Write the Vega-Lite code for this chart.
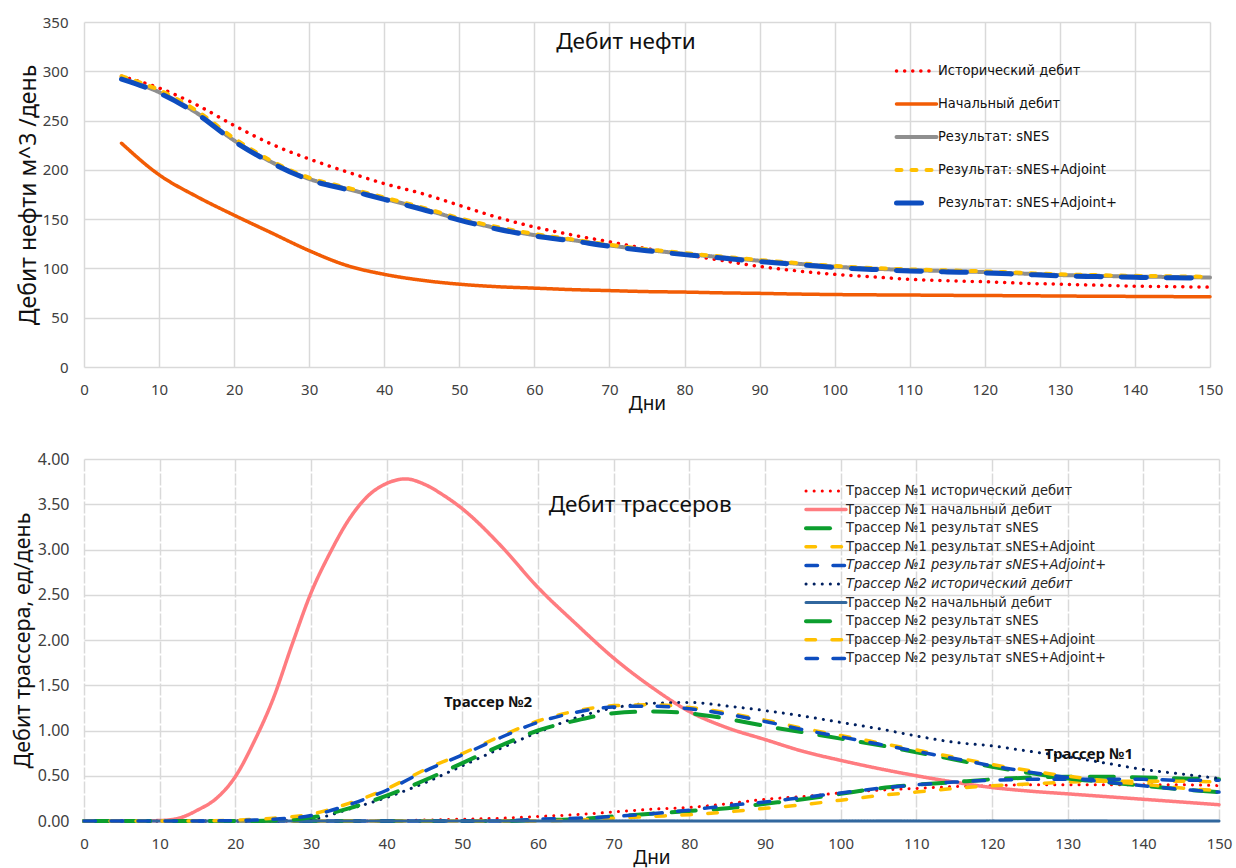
{
  "$schema": "https://vega.github.io/schema/vega-lite/v6.json",
  "background": "white",
  "padding": {"left": 12, "top": 15, "right": 5, "bottom": 5},
  "spacing": 38,
  "resolve": {
    "scale": {"x": "independent", "y": "independent", "color": "independent", "strokeDash": "independent", "strokeWidth": "independent"},
    "axis": {"x": "independent", "y": "independent"},
    "legend": {"color": "independent", "strokeDash": "independent", "strokeWidth": "independent"}
  },
  "config": {
    "font": "Noto Sans",
    "view": {"stroke": null},
    "axis": {
      "grid": true, "gridColor": "#D9D9D9", "gridWidth": 1.5,
      "ticks": false, "domain": false,
      "labelColor": "#404040", "labelFontSize": 15, "labelFlush": false, "labelOverlap": false,
      "titleColor": "#111111", "titleFontWeight": "normal"
    },
    "legend": {"labelLimit": 400, "padding": 0, "symbolType": "stroke", "symbolSize": 1600, "title": null, "labelFont": "DejaVu Sans Condensed, DejaVu Sans"}
  },
  "datasets": {
    "oilnames": [
      {"k": "h", "name": "Исторический дебит"},
      {"k": "i", "name": "Начальный дебит"},
      {"k": "s", "name": "Результат: sNES"},
      {"k": "a", "name": "Результат: sNES+Adjoint"},
      {"k": "p", "name": "Результат: sNES+Adjoint+"}
    ],
    "trnames": [
      {"k": "t1h", "name": "Трассер №1 исторический дебит"},
      {"k": "t1i", "name": "Трассер №1 начальный дебит"},
      {"k": "t1s", "name": "Трассер №1 результат sNES"},
      {"k": "t1a", "name": "Трассер №1 результат sNES+Adjoint"},
      {"k": "t1p", "name": "Трассер №1 результат sNES+Adjoint+"},
      {"k": "t2h", "name": "Трассер №2 исторический дебит"},
      {"k": "t2i", "name": "Трассер №2 начальный дебит"},
      {"k": "t2s", "name": "Трассер №2 результат sNES"},
      {"k": "t2a", "name": "Трассер №2 результат sNES+Adjoint"},
      {"k": "t2p", "name": "Трассер №2 результат sNES+Adjoint+"}
    ],
    "oil": [
      {"k":"h","d":5,"v":295},{"k":"h","d":10,"v":283},{"k":"h","d":15,"v":266},{"k":"h","d":20,"v":245},{"k":"h","d":25,"v":226},{"k":"h","d":30,"v":211},{"k":"h","d":35,"v":198},{"k":"h","d":40,"v":186},{"k":"h","d":45,"v":176},{"k":"h","d":50,"v":164},{"k":"h","d":55,"v":152},{"k":"h","d":60,"v":142},{"k":"h","d":65,"v":134},{"k":"h","d":70,"v":127},{"k":"h","d":75,"v":120},{"k":"h","d":80,"v":114},{"k":"h","d":85,"v":108},{"k":"h","d":90,"v":102},{"k":"h","d":95,"v":97.5},{"k":"h","d":100,"v":94},{"k":"h","d":105,"v":91.5},{"k":"h","d":110,"v":89},{"k":"h","d":115,"v":87.5},{"k":"h","d":120,"v":86.5},{"k":"h","d":125,"v":85},{"k":"h","d":130,"v":84},{"k":"h","d":135,"v":83},{"k":"h","d":140,"v":82},{"k":"h","d":145,"v":81.5},{"k":"h","d":150,"v":81},
      {"k":"i","d":5,"v":227},{"k":"i","d":10,"v":195},{"k":"i","d":15,"v":173},{"k":"i","d":20,"v":154},{"k":"i","d":25,"v":136},{"k":"i","d":30,"v":118},{"k":"i","d":35,"v":103},{"k":"i","d":40,"v":94},{"k":"i","d":45,"v":88},{"k":"i","d":50,"v":84},{"k":"i","d":55,"v":81.5},{"k":"i","d":60,"v":80},{"k":"i","d":65,"v":78.5},{"k":"i","d":70,"v":77.5},{"k":"i","d":75,"v":76.5},{"k":"i","d":80,"v":76},{"k":"i","d":85,"v":75.2},{"k":"i","d":90,"v":74.7},{"k":"i","d":95,"v":74},{"k":"i","d":100,"v":73.5},{"k":"i","d":105,"v":73.2},{"k":"i","d":110,"v":73},{"k":"i","d":115,"v":72.7},{"k":"i","d":120,"v":72.5},{"k":"i","d":125,"v":72.3},{"k":"i","d":130,"v":72},{"k":"i","d":135,"v":71.8},{"k":"i","d":140,"v":71.6},{"k":"i","d":145,"v":71.4},{"k":"i","d":150,"v":71.3},
      {"k":"s","d":5,"v":292.8},{"k":"s","d":10,"v":278.8},{"k":"s","d":15,"v":257.8},{"k":"s","d":20,"v":229.8},{"k":"s","d":25,"v":207.8},{"k":"s","d":30,"v":190.8},{"k":"s","d":35,"v":180.8},{"k":"s","d":40,"v":170.8},{"k":"s","d":45,"v":160.8},{"k":"s","d":50,"v":149.8},{"k":"s","d":55,"v":140.8},{"k":"s","d":60,"v":133.8},{"k":"s","d":65,"v":128.8},{"k":"s","d":70,"v":123.3},{"k":"s","d":75,"v":118.8},{"k":"s","d":80,"v":114.8},{"k":"s","d":85,"v":111.3},{"k":"s","d":90,"v":107.8},{"k":"s","d":95,"v":104.8},{"k":"s","d":100,"v":101.8},{"k":"s","d":105,"v":99.8},{"k":"s","d":110,"v":98.3},{"k":"s","d":115,"v":97.3},{"k":"s","d":120,"v":96.3},{"k":"s","d":125,"v":94.8},{"k":"s","d":130,"v":93.3},{"k":"s","d":135,"v":92.5},{"k":"s","d":140,"v":91.8},{"k":"s","d":145,"v":91.3},{"k":"s","d":150,"v":90.8},
      {"k":"a","d":5,"v":295},{"k":"a","d":10,"v":281},{"k":"a","d":15,"v":260},{"k":"a","d":20,"v":232},{"k":"a","d":25,"v":209},{"k":"a","d":30,"v":192},{"k":"a","d":35,"v":182},{"k":"a","d":40,"v":172},{"k":"a","d":45,"v":162},{"k":"a","d":50,"v":151},{"k":"a","d":55,"v":142},{"k":"a","d":60,"v":135},{"k":"a","d":65,"v":129.5},{"k":"a","d":70,"v":124},{"k":"a","d":75,"v":119.5},{"k":"a","d":80,"v":115.5},{"k":"a","d":85,"v":112},{"k":"a","d":90,"v":108.5},{"k":"a","d":95,"v":105.5},{"k":"a","d":100,"v":102.5},{"k":"a","d":105,"v":100.5},{"k":"a","d":110,"v":99},{"k":"a","d":115,"v":98},{"k":"a","d":120,"v":97},{"k":"a","d":125,"v":95.5},{"k":"a","d":130,"v":94},{"k":"a","d":135,"v":93.2},{"k":"a","d":140,"v":92.5},{"k":"a","d":145,"v":92},{"k":"a","d":150,"v":91.5},
      {"k":"p","d":5,"v":292},{"k":"p","d":10,"v":278},{"k":"p","d":15,"v":257},{"k":"p","d":20,"v":229},{"k":"p","d":25,"v":207},{"k":"p","d":30,"v":190},{"k":"p","d":35,"v":180},{"k":"p","d":40,"v":170},{"k":"p","d":45,"v":160},{"k":"p","d":50,"v":149},{"k":"p","d":55,"v":140},{"k":"p","d":60,"v":133},{"k":"p","d":65,"v":128},{"k":"p","d":70,"v":122.5},{"k":"p","d":75,"v":118},{"k":"p","d":80,"v":114},{"k":"p","d":85,"v":110.5},{"k":"p","d":90,"v":107},{"k":"p","d":95,"v":104},{"k":"p","d":100,"v":101},{"k":"p","d":105,"v":99},{"k":"p","d":110,"v":97.5},{"k":"p","d":115,"v":96.5},{"k":"p","d":120,"v":95.5},{"k":"p","d":125,"v":94},{"k":"p","d":130,"v":92.5},{"k":"p","d":135,"v":91.7},{"k":"p","d":140,"v":91},{"k":"p","d":145,"v":90.5},{"k":"p","d":150,"v":90}
    ],
    "tr": [
      {"k":"t1h","d":0,"v":0},{"k":"t1h","d":5,"v":0},{"k":"t1h","d":10,"v":0},{"k":"t1h","d":15,"v":0},{"k":"t1h","d":20,"v":0},{"k":"t1h","d":25,"v":0},{"k":"t1h","d":30,"v":0},{"k":"t1h","d":35,"v":0},{"k":"t1h","d":40,"v":0},{"k":"t1h","d":45,"v":0.01},{"k":"t1h","d":50,"v":0.02},{"k":"t1h","d":55,"v":0.03},{"k":"t1h","d":60,"v":0.05},{"k":"t1h","d":65,"v":0.07},{"k":"t1h","d":70,"v":0.10},{"k":"t1h","d":75,"v":0.13},{"k":"t1h","d":80,"v":0.15},{"k":"t1h","d":85,"v":0.19},{"k":"t1h","d":90,"v":0.24},{"k":"t1h","d":95,"v":0.27},{"k":"t1h","d":100,"v":0.31},{"k":"t1h","d":105,"v":0.34},{"k":"t1h","d":110,"v":0.36},{"k":"t1h","d":115,"v":0.38},{"k":"t1h","d":120,"v":0.39},{"k":"t1h","d":125,"v":0.40},{"k":"t1h","d":130,"v":0.40},{"k":"t1h","d":135,"v":0.40},{"k":"t1h","d":140,"v":0.40},{"k":"t1h","d":145,"v":0.40},{"k":"t1h","d":150,"v":0.39},
      {"k":"t1i","d":0,"v":0},{"k":"t1i","d":5,"v":0},{"k":"t1i","d":10,"v":0.005},{"k":"t1i","d":12.5,"v":0.03},{"k":"t1i","d":15,"v":0.12},{"k":"t1i","d":17.5,"v":0.25},{"k":"t1i","d":20,"v":0.49},{"k":"t1i","d":22.5,"v":0.88},{"k":"t1i","d":25,"v":1.35},{"k":"t1i","d":27.5,"v":1.95},{"k":"t1i","d":30,"v":2.52},{"k":"t1i","d":32.5,"v":2.96},{"k":"t1i","d":35,"v":3.33},{"k":"t1i","d":37.5,"v":3.59},{"k":"t1i","d":40,"v":3.73},{"k":"t1i","d":42.5,"v":3.78},{"k":"t1i","d":45,"v":3.72},{"k":"t1i","d":47.5,"v":3.6},{"k":"t1i","d":50,"v":3.45},{"k":"t1i","d":55,"v":3.05},{"k":"t1i","d":60,"v":2.58},{"k":"t1i","d":65,"v":2.18},{"k":"t1i","d":70,"v":1.8},{"k":"t1i","d":75,"v":1.48},{"k":"t1i","d":80,"v":1.21},{"k":"t1i","d":85,"v":1.03},{"k":"t1i","d":90,"v":0.9},{"k":"t1i","d":95,"v":0.77},{"k":"t1i","d":100,"v":0.67},{"k":"t1i","d":105,"v":0.58},{"k":"t1i","d":110,"v":0.5},{"k":"t1i","d":115,"v":0.43},{"k":"t1i","d":120,"v":0.37},{"k":"t1i","d":125,"v":0.33},{"k":"t1i","d":130,"v":0.3},{"k":"t1i","d":135,"v":0.27},{"k":"t1i","d":140,"v":0.24},{"k":"t1i","d":145,"v":0.21},{"k":"t1i","d":150,"v":0.18},
      {"k":"t1s","d":0,"v":0},{"k":"t1s","d":5,"v":0},{"k":"t1s","d":10,"v":0},{"k":"t1s","d":15,"v":0},{"k":"t1s","d":20,"v":0},{"k":"t1s","d":25,"v":0},{"k":"t1s","d":30,"v":0},{"k":"t1s","d":35,"v":0},{"k":"t1s","d":40,"v":0},{"k":"t1s","d":45,"v":0},{"k":"t1s","d":50,"v":0},{"k":"t1s","d":55,"v":0},{"k":"t1s","d":60,"v":0.01},{"k":"t1s","d":65,"v":0.02},{"k":"t1s","d":70,"v":0.05},{"k":"t1s","d":75,"v":0.08},{"k":"t1s","d":80,"v":0.11},{"k":"t1s","d":85,"v":0.14},{"k":"t1s","d":90,"v":0.19},{"k":"t1s","d":95,"v":0.24},{"k":"t1s","d":100,"v":0.30},{"k":"t1s","d":105,"v":0.36},{"k":"t1s","d":110,"v":0.40},{"k":"t1s","d":115,"v":0.43},{"k":"t1s","d":120,"v":0.46},{"k":"t1s","d":125,"v":0.48},{"k":"t1s","d":130,"v":0.49},{"k":"t1s","d":135,"v":0.49},{"k":"t1s","d":140,"v":0.48},{"k":"t1s","d":145,"v":0.47},{"k":"t1s","d":150,"v":0.46},
      {"k":"t1a","d":0,"v":0},{"k":"t1a","d":5,"v":0},{"k":"t1a","d":10,"v":0},{"k":"t1a","d":15,"v":0},{"k":"t1a","d":20,"v":0},{"k":"t1a","d":25,"v":0},{"k":"t1a","d":30,"v":0},{"k":"t1a","d":35,"v":0},{"k":"t1a","d":40,"v":0},{"k":"t1a","d":45,"v":0},{"k":"t1a","d":50,"v":0},{"k":"t1a","d":55,"v":0},{"k":"t1a","d":60,"v":0},{"k":"t1a","d":65,"v":0.01},{"k":"t1a","d":70,"v":0.03},{"k":"t1a","d":75,"v":0.05},{"k":"t1a","d":80,"v":0.07},{"k":"t1a","d":85,"v":0.10},{"k":"t1a","d":90,"v":0.14},{"k":"t1a","d":95,"v":0.18},{"k":"t1a","d":100,"v":0.23},{"k":"t1a","d":105,"v":0.28},{"k":"t1a","d":110,"v":0.32},{"k":"t1a","d":115,"v":0.36},{"k":"t1a","d":120,"v":0.39},{"k":"t1a","d":125,"v":0.41},{"k":"t1a","d":130,"v":0.43},{"k":"t1a","d":135,"v":0.44},{"k":"t1a","d":140,"v":0.44},{"k":"t1a","d":145,"v":0.44},{"k":"t1a","d":150,"v":0.43},
      {"k":"t1p","d":0,"v":0},{"k":"t1p","d":5,"v":0},{"k":"t1p","d":10,"v":0},{"k":"t1p","d":15,"v":0},{"k":"t1p","d":20,"v":0},{"k":"t1p","d":25,"v":0},{"k":"t1p","d":30,"v":0},{"k":"t1p","d":35,"v":0},{"k":"t1p","d":40,"v":0},{"k":"t1p","d":45,"v":0},{"k":"t1p","d":50,"v":0},{"k":"t1p","d":55,"v":0},{"k":"t1p","d":60,"v":0.02},{"k":"t1p","d":65,"v":0.03},{"k":"t1p","d":70,"v":0.05},{"k":"t1p","d":75,"v":0.08},{"k":"t1p","d":80,"v":0.12},{"k":"t1p","d":85,"v":0.17},{"k":"t1p","d":90,"v":0.21},{"k":"t1p","d":95,"v":0.26},{"k":"t1p","d":100,"v":0.31},{"k":"t1p","d":105,"v":0.36},{"k":"t1p","d":110,"v":0.40},{"k":"t1p","d":115,"v":0.43},{"k":"t1p","d":120,"v":0.45},{"k":"t1p","d":125,"v":0.46},{"k":"t1p","d":130,"v":0.46},{"k":"t1p","d":135,"v":0.46},{"k":"t1p","d":140,"v":0.46},{"k":"t1p","d":145,"v":0.45},{"k":"t1p","d":150,"v":0.45},
      {"k":"t2h","d":0,"v":0},{"k":"t2h","d":5,"v":0},{"k":"t2h","d":10,"v":0},{"k":"t2h","d":15,"v":0},{"k":"t2h","d":20,"v":0},{"k":"t2h","d":25,"v":0},{"k":"t2h","d":30,"v":0.02},{"k":"t2h","d":35,"v":0.13},{"k":"t2h","d":40,"v":0.26},{"k":"t2h","d":45,"v":0.42},{"k":"t2h","d":50,"v":0.61},{"k":"t2h","d":55,"v":0.80},{"k":"t2h","d":60,"v":0.98},{"k":"t2h","d":65,"v":1.14},{"k":"t2h","d":70,"v":1.25},{"k":"t2h","d":75,"v":1.30},{"k":"t2h","d":80,"v":1.31},{"k":"t2h","d":85,"v":1.27},{"k":"t2h","d":90,"v":1.22},{"k":"t2h","d":95,"v":1.16},{"k":"t2h","d":100,"v":1.09},{"k":"t2h","d":105,"v":1.02},{"k":"t2h","d":110,"v":0.94},{"k":"t2h","d":115,"v":0.87},{"k":"t2h","d":120,"v":0.83},{"k":"t2h","d":125,"v":0.77},{"k":"t2h","d":130,"v":0.71},{"k":"t2h","d":135,"v":0.64},{"k":"t2h","d":140,"v":0.57},{"k":"t2h","d":145,"v":0.52},{"k":"t2h","d":150,"v":0.47},
      {"k":"t2i","d":0,"v":0},{"k":"t2i","d":10,"v":0},{"k":"t2i","d":20,"v":0},{"k":"t2i","d":30,"v":0},{"k":"t2i","d":40,"v":0},{"k":"t2i","d":50,"v":0},{"k":"t2i","d":60,"v":0},{"k":"t2i","d":70,"v":0},{"k":"t2i","d":80,"v":0},{"k":"t2i","d":90,"v":0},{"k":"t2i","d":100,"v":0},{"k":"t2i","d":110,"v":0},{"k":"t2i","d":120,"v":0},{"k":"t2i","d":130,"v":0},{"k":"t2i","d":140,"v":0},{"k":"t2i","d":150,"v":0},
      {"k":"t2s","d":0,"v":0},{"k":"t2s","d":5,"v":0},{"k":"t2s","d":10,"v":0},{"k":"t2s","d":15,"v":0},{"k":"t2s","d":20,"v":0},{"k":"t2s","d":25,"v":0.005},{"k":"t2s","d":30,"v":0.04},{"k":"t2s","d":35,"v":0.14},{"k":"t2s","d":40,"v":0.28},{"k":"t2s","d":45,"v":0.45},{"k":"t2s","d":50,"v":0.64},{"k":"t2s","d":55,"v":0.83},{"k":"t2s","d":60,"v":1.0},{"k":"t2s","d":65,"v":1.11},{"k":"t2s","d":70,"v":1.19},{"k":"t2s","d":75,"v":1.21},{"k":"t2s","d":80,"v":1.19},{"k":"t2s","d":85,"v":1.13},{"k":"t2s","d":90,"v":1.05},{"k":"t2s","d":95,"v":0.98},{"k":"t2s","d":100,"v":0.91},{"k":"t2s","d":105,"v":0.84},{"k":"t2s","d":110,"v":0.76},{"k":"t2s","d":115,"v":0.68},{"k":"t2s","d":120,"v":0.60},{"k":"t2s","d":125,"v":0.53},{"k":"t2s","d":130,"v":0.47},{"k":"t2s","d":135,"v":0.43},{"k":"t2s","d":140,"v":0.39},{"k":"t2s","d":145,"v":0.35},{"k":"t2s","d":150,"v":0.32},
      {"k":"t2a","d":0,"v":0},{"k":"t2a","d":5,"v":0},{"k":"t2a","d":10,"v":0},{"k":"t2a","d":15,"v":0},{"k":"t2a","d":20,"v":0.01},{"k":"t2a","d":25,"v":0.03},{"k":"t2a","d":30,"v":0.075},{"k":"t2a","d":35,"v":0.195},{"k":"t2a","d":40,"v":0.355},{"k":"t2a","d":45,"v":0.565},{"k":"t2a","d":50,"v":0.745},{"k":"t2a","d":55,"v":0.935},{"k":"t2a","d":60,"v":1.105},{"k":"t2a","d":65,"v":1.215},{"k":"t2a","d":70,"v":1.275},{"k":"t2a","d":75,"v":1.285},{"k":"t2a","d":80,"v":1.255},{"k":"t2a","d":85,"v":1.195},{"k":"t2a","d":90,"v":1.115},{"k":"t2a","d":95,"v":1.025},{"k":"t2a","d":100,"v":0.945},{"k":"t2a","d":105,"v":0.865},{"k":"t2a","d":110,"v":0.785},{"k":"t2a","d":115,"v":0.705},{"k":"t2a","d":120,"v":0.625},{"k":"t2a","d":125,"v":0.555},{"k":"t2a","d":130,"v":0.495},{"k":"t2a","d":135,"v":0.445},{"k":"t2a","d":140,"v":0.405},{"k":"t2a","d":145,"v":0.365},{"k":"t2a","d":150,"v":0.335},
      {"k":"t2p","d":0,"v":0},{"k":"t2p","d":5,"v":0},{"k":"t2p","d":10,"v":0},{"k":"t2p","d":15,"v":0},{"k":"t2p","d":20,"v":0.005},{"k":"t2p","d":25,"v":0.02},{"k":"t2p","d":30,"v":0.06},{"k":"t2p","d":35,"v":0.18},{"k":"t2p","d":40,"v":0.34},{"k":"t2p","d":45,"v":0.55},{"k":"t2p","d":50,"v":0.73},{"k":"t2p","d":55,"v":0.92},{"k":"t2p","d":60,"v":1.09},{"k":"t2p","d":65,"v":1.20},{"k":"t2p","d":70,"v":1.26},{"k":"t2p","d":75,"v":1.27},{"k":"t2p","d":80,"v":1.24},{"k":"t2p","d":85,"v":1.18},{"k":"t2p","d":90,"v":1.10},{"k":"t2p","d":95,"v":1.01},{"k":"t2p","d":100,"v":0.93},{"k":"t2p","d":105,"v":0.85},{"k":"t2p","d":110,"v":0.77},{"k":"t2p","d":115,"v":0.69},{"k":"t2p","d":120,"v":0.61},{"k":"t2p","d":125,"v":0.54},{"k":"t2p","d":130,"v":0.48},{"k":"t2p","d":135,"v":0.43},{"k":"t2p","d":140,"v":0.39},{"k":"t2p","d":145,"v":0.35},{"k":"t2p","d":150,"v":0.32}
    ]
  },
  "vconcat": [
    {
      "width": 1126,
      "height": 345,
      "layer": [
        {
          "data": {"name": "oil"},
          "transform": [{"lookup": "k", "from": {"data": {"name": "oilnames"}, "key": "k", "fields": ["name"]}}],
          "mark": {"type": "line", "interpolate": "monotone", "strokeCap": "round"},
          "encoding": {
            "x": {"field": "d", "type": "quantitative", "title": "Дни",
                  "scale": {"domain": [0, 150], "nice": false, "zero": false},
                  "axis": {"values": [0,10,20,30,40,50,60,70,80,90,100,110,120,130,140,150], "labelPadding": 15, "titlePadding": -3, "titleFontSize": 19}},
            "y": {"field": "v", "type": "quantitative", "title": "Дебит нефти м^3 /день",
                  "scale": {"domain": [0, 350], "nice": false},
                  "axis": {"values": [0,50,100,150,200,250,300,350], "labelPadding": 16, "titlePadding": 2, "titleFontSize": 23}},
            "color": {"field": "name", "type": "nominal",
              "scale": {"domain": ["Исторический дебит","Начальный дебит","Результат: sNES","Результат: sNES+Adjoint","Результат: sNES+Adjoint+"],
                        "range": ["#FF0000","#F25C05","#8F8F8F","#FFC000","#0D4DBF"]},
              "legend": {"orient": "none", "legendX": 810, "legendY": 40.5, "clipHeight": 17, "rowPadding": 16, "labelOffset": -1, "labelFontSize": 14.5, "labelColor": "#111111", "symbolStrokeWidth": 4,
                         "encode": {"symbols": {"update": {"strokeCap": {"value": "round"}}}}}},
            "strokeDash": {"field": "name", "type": "nominal",
              "scale": {"domain": ["Исторический дебит","Начальный дебит","Результат: sNES","Результат: sNES+Adjoint","Результат: sNES+Adjoint+"],
                        "range": [[0.1, 8], [1, 0], [1, 0], [5, 10], [25, 20]]},
              "legend": {"orient": "none", "legendX": 810, "legendY": 40.5, "clipHeight": 17, "rowPadding": 16, "labelOffset": -1, "labelFontSize": 14.5, "labelColor": "#111111", "symbolStrokeWidth": 4,
                         "encode": {"symbols": {"update": {"strokeCap": {"value": "round"}}}}}},
            "strokeWidth": {"field": "name", "type": "nominal",
              "scale": {"type": "ordinal", "domain": ["Исторический дебит","Начальный дебит","Результат: sNES","Результат: sNES+Adjoint","Результат: sNES+Adjoint+"],
                        "range": [3.5, 3.5, 4, 4, 5]},
              "legend": null}
          }
        },
        {
          "data": {"values": [{"d": 72.2, "v": 329.7, "t": "Дебит нефти"}]},
          "mark": {"type": "text", "fontSize": 22.5, "color": "#111111", "align": "center", "baseline": "middle"},
          "encoding": {
            "x": {"field": "d", "type": "quantitative", "title": "Дни"},
            "y": {"field": "v", "type": "quantitative", "title": "Дебит нефти м^3 /день"},
            "text": {"field": "t"}
          }
        }
      ]
    },
    {
      "width": 1135,
      "height": 362,
      "layer": [
        {
          "data": {"name": "tr"},
          "transform": [{"lookup": "k", "from": {"data": {"name": "trnames"}, "key": "k", "fields": ["name"]}}],
          "mark": {"type": "line", "interpolate": "monotone", "strokeCap": "round"},
          "encoding": {
            "x": {"field": "d", "type": "quantitative", "title": "Дни",
                  "scale": {"domain": [0, 150], "nice": false, "zero": false},
                  "axis": {"values": [0,10,20,30,40,50,60,70,80,90,100,110,120,130,140,150], "labelPadding": 15, "titlePadding": -3, "titleFontSize": 19, "gridDash": [12, 2]}},
            "y": {"field": "v", "type": "quantitative", "title": "Дебит трассера, ед/день",
                  "scale": {"domain": [0, 4], "nice": false},
                  "axis": {"values": [0,0.5,1,1.5,2,2.5,3,3.5,4], "format": ".2f", "labelPadding": 15, "labelFontSize": 16, "titlePadding": 3, "titleFontSize": 21.5}},
            "color": {"field": "name", "type": "nominal",
              "scale": {"domain": ["Трассер №1 исторический дебит","Трассер №1 начальный дебит","Трассер №1 результат sNES","Трассер №1 результат sNES+Adjoint","Трассер №1 результат sNES+Adjoint+","Трассер №2 исторический дебит","Трассер №2 начальный дебит","Трассер №2 результат sNES","Трассер №2 результат sNES+Adjoint","Трассер №2 результат sNES+Adjoint+"],
                        "range": ["#FF0000","#FF7C80","#0C9E2E","#FFC000","#0D4DBF","#002060","#31679E","#0C9E2E","#FFC000","#0D4DBF"]},
              "legend": {"orient": "none", "legendX": 720, "legendY": 23.5, "clipHeight": 17, "rowPadding": 1.6, "labelOffset": -2, "labelFontSize": 14.5, "labelColor": "#262626", "symbolStrokeWidth": 3.5,
                         "encode": {"symbols": {"update": {"strokeCap": {"value": "round"}}},
                                    "labels": {"update": {"fontStyle": {"signal": "indexof(['Трассер №1 результат sNES+Adjoint+','Трассер №2 исторический дебит'], datum.value) >= 0 ? 'italic' : 'normal'"}}}}}},
            "strokeDash": {"field": "name", "type": "nominal",
              "scale": {"domain": ["Трассер №1 исторический дебит","Трассер №1 начальный дебит","Трассер №1 результат sNES","Трассер №1 результат sNES+Adjoint","Трассер №1 результат sNES+Adjoint+","Трассер №2 исторический дебит","Трассер №2 начальный дебит","Трассер №2 результат sNES","Трассер №2 результат sNES+Adjoint","Трассер №2 результат sNES+Adjoint+"],
                        "range": [[0.1, 8], [1, 0], [24, 18], [9.5, 16.5], [11.5, 15.5], [0.1, 8], [1, 0], [24, 18], [9.5, 16.5], [11.5, 15.5]]},
              "legend": {"orient": "none", "legendX": 720, "legendY": 23.5, "clipHeight": 17, "rowPadding": 1.6, "labelOffset": -2, "labelFontSize": 14.5, "labelColor": "#262626", "symbolStrokeWidth": 3.5,
                         "encode": {"symbols": {"update": {"strokeCap": {"value": "round"}}},
                                    "labels": {"update": {"fontStyle": {"signal": "indexof(['Трассер №1 результат sNES+Adjoint+','Трассер №2 исторический дебит'], datum.value) >= 0 ? 'italic' : 'normal'"}}}}}},
            "strokeWidth": {"field": "name", "type": "nominal",
              "scale": {"type": "ordinal", "domain": ["Трассер №1 исторический дебит","Трассер №1 начальный дебит","Трассер №1 результат sNES","Трассер №1 результат sNES+Adjoint","Трассер №1 результат sNES+Adjoint+","Трассер №2 исторический дебит","Трассер №2 начальный дебит","Трассер №2 результат sNES","Трассер №2 результат sNES+Adjoint","Трассер №2 результат sNES+Adjoint+"],
                        "range": [3, 3.5, 4, 3.5, 3.5, 3, 3, 4, 3.5, 3.5]},
              "legend": null}
          }
        },
        {
          "data": {"values": [{"d": 73.5, "v": 3.49, "t": "Дебит трассеров"}]},
          "mark": {"type": "text", "fontSize": 22.5, "color": "#111111", "align": "center", "baseline": "middle"},
          "encoding": {
            "x": {"field": "d", "type": "quantitative", "title": "Дни"},
            "y": {"field": "v", "type": "quantitative", "title": "Дебит трассера, ед/день"},
            "text": {"field": "t"}
          }
        },
        {
          "data": {"values": [{"d": 53.4, "v": 1.31, "t": "Трассер №2"}, {"d": 132.8, "v": 0.74, "t": "Трассер №1"}]},
          "mark": {"type": "text", "fontSize": 15, "fontWeight": "bold", "color": "#111111", "align": "center", "baseline": "middle"},
          "encoding": {
            "x": {"field": "d", "type": "quantitative", "title": "Дни"},
            "y": {"field": "v", "type": "quantitative", "title": "Дебит трассера, ед/день"},
            "text": {"field": "t"}
          }
        }
      ]
    }
  ]
}
